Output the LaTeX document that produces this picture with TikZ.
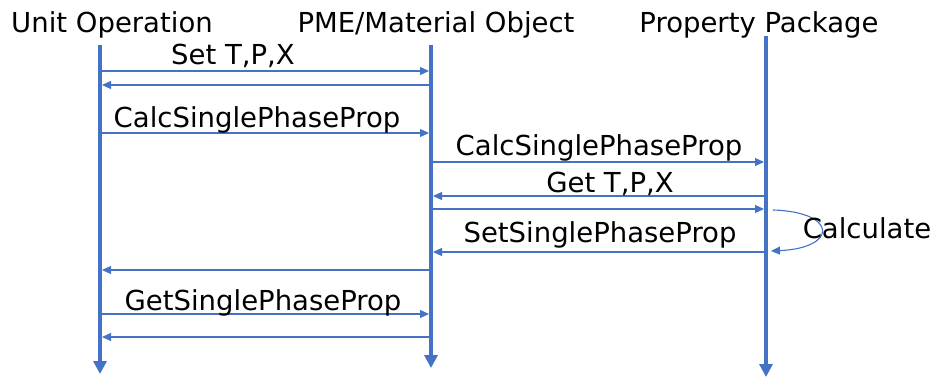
\documentclass[tikz,border=0pt]{standalone}
\usepackage{fontspec}
\setmainfont{DejaVu Sans}
\usetikzlibrary{arrows.meta}
\definecolor{lblue}{HTML}{4472C4}
\tikzset{
  lifeline/.style={draw=lblue, line width=4pt, -{Triangle[width=13pt,length=13pt]}},
  msg/.style={draw=lblue, line width=1.1pt, -{Triangle[width=8pt,length=9pt]}},
  txt/.style={anchor=base, inner sep=0pt, font=\fontsize{27.5}{33}\selectfont},
}
\begin{document}
\begin{tikzpicture}[x=1pt,y=-1pt]
\useasboundingbox (0,0) rectangle (938,377);
% titles
\node[txt] (tU) at (112,33) {Unit Operation};
\node[txt] (tM) at (436,33) {PME/Material Object};
\node[txt] (tP) at (759,33) {Property Package};
% lifelines
\coordinate (Utop) at (100,45);
\coordinate (Ubot) at (100,374);
\coordinate (Mtop) at (431,45);
\coordinate (Mbot) at (431,368);
\coordinate (Ptop) at (766,36);
\coordinate (Pbot) at (766,377);
\draw[lifeline] (Utop) -- (Ubot);
\draw[lifeline] (Mtop) -- (Mbot);
\draw[lifeline] (Ptop) -- (Pbot);
% message end points
\coordinate (u1) at (100,71);  \coordinate (m1) at (429,71);
\coordinate (m2) at (431,85);  \coordinate (u2) at (102,85);
\coordinate (u3) at (100,133); \coordinate (m3) at (429,133);
\coordinate (m4) at (431,162); \coordinate (p4) at (764,162);
\coordinate (p5) at (766,196); \coordinate (m5) at (433,196);
\coordinate (m6) at (431,209); \coordinate (p6) at (764,209);
\coordinate (c1) at (773,210); \coordinate (c2) at (771,251);
\coordinate (p8) at (766,252); \coordinate (m8) at (433,252);
\coordinate (m9) at (431,270); \coordinate (u9) at (102,270);
\coordinate (u10) at (100,314); \coordinate (m10) at (429,314);
\coordinate (m11) at (431,337); \coordinate (u11) at (102,337);
% messages
\draw[msg] (u1) -- (m1);
\draw[msg] (m2) -- (u2);
\draw[msg] (u3) -- (m3);
\draw[msg] (m4) -- (p4);
\draw[msg] (p5) -- (m5);
\draw[msg] (m6) -- (p6);
\draw[msg] (c1) .. controls (838,212) and (838,248) .. (c2);
\draw[msg] (p8) -- (m8);
\draw[msg] (m9) -- (u9);
\draw[msg] (u10) -- (m10);
\draw[msg] (m11) -- (u11);
% labels
\node[txt] (l1) at (233,65) {Set T,P,X};
\node[txt] (l3) at (257,128) {CalcSinglePhaseProp};
\node[txt] (l4) at (599,156) {CalcSinglePhaseProp};
\node[txt] (l5) at (610,193) {Get T,P,X};
\node[txt] (l7) at (867,238) {Calculate};
\node[txt] (l8) at (600,243) {SetSinglePhaseProp};
\node[txt] (l10) at (263,310) {GetSinglePhaseProp};
\end{tikzpicture}
\end{document}
